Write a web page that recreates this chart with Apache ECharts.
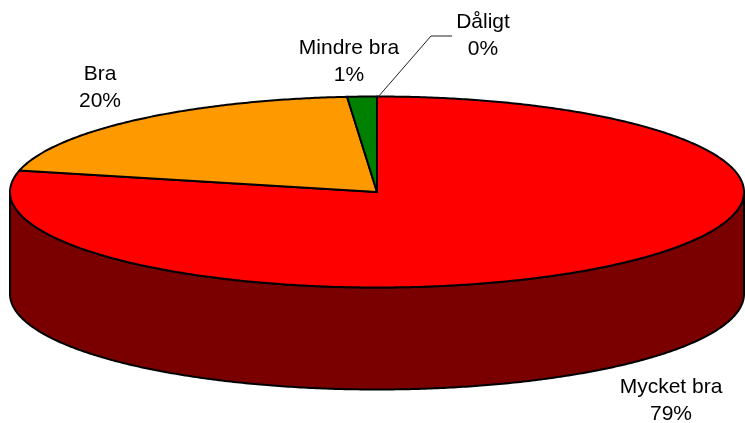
<!DOCTYPE html>
<html><head><meta charset="utf-8">
<script src="https://cdn.jsdelivr.net/npm/echarts@6/dist/echarts.min.js"></script>
<style>html,body{margin:0;padding:0;background:#fff}#c{width:745px;height:423px}</style>
</head><body><div id="c"></div>
<script>
// Data
const categories = ['Mycket bra', 'Bra', 'Mindre bra', 'Dåligt'];
const values = [78.6, 20.1, 1.3, 0];

// Styles
const topColors = ['#FF0000', '#FF9900', '#008000', '#000080'];
const sideColors = ['#7A0000', '#7F4C00', '#004000', '#000040'];

// Layout
const G = { cx: 377, cy: 192, rx: 367, ry: 95.5, depth: 102 };
const labelCenters = [[671, 401], [100, 88], [349, 62], [483, 36]];
const leader = { 3: [[452, 36], [431, 36], [378, 97]] };

function pt(th, dy) {
  const r = th * Math.PI / 180;
  return [G.cx + G.rx * Math.cos(r), G.cy - G.ry * Math.sin(r) + (dy || 0)];
}
function arc(a, b, dy) {
  const n = Math.max(2, Math.ceil(Math.abs(a - b) / 0.5));
  const pts = [];
  for (let k = 0; k <= n; k++) pts.push(pt(a + (b - a) * k / n, dy));
  return pts;
}
const total = values.reduce((s, v) => s + v, 0);

function renderItem(params, api) {
  const i = params.dataIndex;
  let before = 0;
  for (let k = 0; k < i; k++) before += values[k];
  const v = api.value(0);
  const s = 90 - 360 * before / total;
  const e = s - 360 * v / total;
  const children = [];
  const hi = Math.min(s, 0), lo = Math.max(e, -180);
  if (hi > lo) {
    const pts = arc(hi, lo, 0).concat(arc(lo, hi, G.depth));
    children.push({ type: 'polygon', shape: { points: pts }, z2: 1,
      style: { fill: sideColors[i], stroke: '#000', lineWidth: 2, lineJoin: 'round' } });
  }
  if (v > 0) {
    const pts = [[G.cx, G.cy]].concat(arc(s, e, 0));
    children.push({ type: 'polygon', shape: { points: pts }, z2: 2,
      style: { fill: topColors[i], stroke: '#000', lineWidth: 2, lineJoin: 'round' } });
  }
  const lc = labelCenters[i];
  children.push({ type: 'text', x: lc[0], y: lc[1], z2: 5,
    style: { text: categories[i] + '\n' + Math.round(v / total * 100) + '%',
      fill: '#000', font: '21px "Liberation Sans", Arial, sans-serif',
      lineHeight: 27, align: 'center', verticalAlign: 'middle' } });
  if (leader[i]) {
    children.push({ type: 'polyline', shape: { points: leader[i] }, z2: 6,
      style: { fill: null, stroke: '#222', lineWidth: 1 } });
  }
  return { type: 'group', children };
}

const chart = echarts.init(document.getElementById('c'), null, { renderer: 'canvas' });
chart.setOption({
  animation: false,
  backgroundColor: '#fff',
  series: [{
    type: 'custom',
    coordinateSystem: 'none',
    renderItem: renderItem,
    data: values.map(v => [v])
  }]
});
</script></body></html>
